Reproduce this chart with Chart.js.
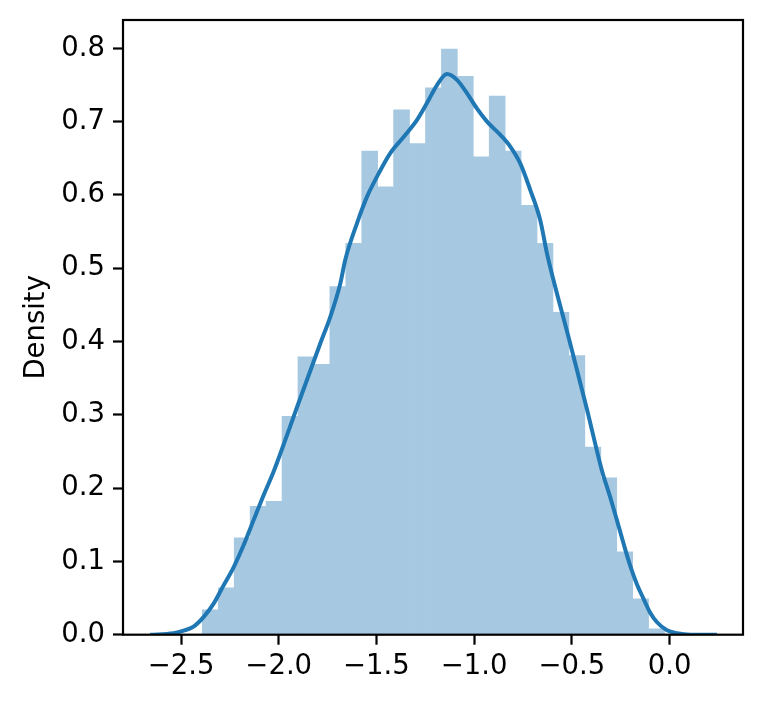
<!DOCTYPE html>
<html>
<head>
<meta charset="utf-8">
<script src="https://cdn.jsdelivr.net/npm/chart.js@4/dist/chart.umd.min.js"></script>
<style>
html,body{margin:0;padding:0;background:#fff;}
canvas{display:block;}
</style>
</head>
<body>
<canvas id="c" width="762" height="703"></canvas>
<script>
// Histogram bins (centers) and densities
const binCenters = [-2.3502,-2.2686,-2.1870,-2.1055,-2.0239,-1.9423,-1.8608,-1.7792,-1.6976,-1.6161,
  -1.5345,-1.4529,-1.3714,-1.2898,-1.2082,-1.1267,-1.0451,-0.9635,-0.8820,-0.8004,
  -0.7188,-0.6373,-0.5557,-0.4741,-0.3926,-0.3110,-0.2294,-0.1479,-0.0663];
const binDensity = [0.034,0.064,0.132,0.175,0.182,0.298,0.379,0.369,0.475,0.534,
  0.660,0.611,0.716,0.670,0.746,0.799,0.762,0.652,0.735,0.660,
  0.586,0.534,0.440,0.381,0.256,0.214,0.113,0.049,0.008];
// KDE curve
const kdeX = [-2.658,-2.538,-2.487,-2.436,-2.385,-2.334,-2.283,-2.231,-2.180,-2.129,-2.078,-2.027,
  -1.958,-1.907,-1.788,-1.737,-1.685,-1.660,-1.600,-1.549,-1.497,-1.429,-1.361,-1.293,-1.242,
  -1.190,-1.139,-1.088,-1.037,-0.986,-0.934,-0.866,-0.815,-0.764,-0.713,-0.662,-0.627,-0.594,
  -0.508,-0.423,-0.346,-0.304,-0.269,-0.235,-0.201,-0.167,-0.133,-0.099,-0.064,-0.013,0.038,0.106,0.243];
const kdeY = [0.000,0.002,0.0055,0.011,0.024,0.042,0.067,0.092,0.122,0.156,0.190,0.222,
  0.272,0.310,0.397,0.433,0.479,0.511,0.561,0.597,0.625,0.657,0.679,0.702,0.725,
  0.750,0.765,0.757,0.739,0.718,0.700,0.682,0.666,0.643,0.607,0.566,0.520,0.484,
  0.397,0.308,0.224,0.188,0.156,0.124,0.094,0.069,0.049,0.030,0.017,0.006,0.002,0.000,0.000];
const xTicks = [-2.5,-2.0,-1.5,-1.0,-0.5,0.0];
const yTicks = [0.0,0.1,0.2,0.3,0.4,0.5,0.6,0.7,0.8];
const yLabel = 'Density';

const fmt = v => (Math.abs(v) < 1e-9 ? 0 : v).toFixed(1).replace('-', '\u2212');

const frame = {
  id: 'frame',
  afterDatasetsDraw(chart) {
    const a = chart.chartArea, ctx = chart.ctx;
    ctx.save();
    ctx.strokeStyle = '#000';
    ctx.lineWidth = 2.2;
    ctx.strokeRect(a.left, a.top, a.right - a.left, a.bottom - a.top);
    ctx.restore();
  }
};

Chart.defaults.font.family = '"DejaVu Sans", sans-serif';
Chart.defaults.color = '#000';

new Chart(document.getElementById('c'), {
  type: 'bar',
  data: {
    datasets: [
      {
        type: 'line',
        data: kdeX.map((x, i) => ({x, y: kdeY[i]})),
        borderColor: '#1f77b4',
        borderWidth: 4,
        pointRadius: 0,
        cubicInterpolationMode: 'monotone',
        fill: false,
        order: 0
      },
      {
        type: 'bar',
        data: binCenters.map((x, i) => ({x, y: binDensity[i]})),
        backgroundColor: 'rgb(166,201,225)',
        borderWidth: 0,
        barPercentage: 1,
        categoryPercentage: 1,
        order: 1
      }
    ]
  },
  plugins: [frame],
  options: {
    responsive: false,
    animation: false,
    devicePixelRatio: 1,
    layout: {padding: {top: 20, right: 19, left: 0, bottom: 0}},
    plugins: {legend: {display: false}, tooltip: {enabled: false}},
    scales: {
      x: {
        type: 'linear',
        offset: false,
        min: -2.797,
        max: 0.376,
        afterBuildTicks: s => { s.ticks = xTicks.map(v => ({value: v})); },
        afterFit: s => { s.height = 68.3; s.paddingLeft = 0; s.paddingRight = 0; },
        grid: {offset: false, drawOnChartArea: false, drawTicks: true, tickLength: 10, tickWidth: 2.2, tickColor: '#000'},
        border: {display: false},
        ticks: {font: {size: 27.5}, padding: 6, maxRotation: 0, callback: v => fmt(v)}
      },
      y: {
        type: 'linear',
        min: 0,
        max: 0.8387,
        afterBuildTicks: s => { s.ticks = yTicks.map(v => ({value: v})); },
        afterFit: s => { s.width = 123; s.paddingTop = 0; s.paddingBottom = 0; },
        grid: {drawOnChartArea: false, drawTicks: true, tickLength: 10, tickWidth: 2.2, tickColor: '#000'},
        border: {display: false},
        ticks: {font: {size: 27.5}, padding: 8, callback: v => fmt(v)},
        title: {display: true, text: yLabel, font: {size: 27.5}, padding: {top: 20, bottom: 0}}
      }
    }
  }
});
</script>
</body>
</html>
